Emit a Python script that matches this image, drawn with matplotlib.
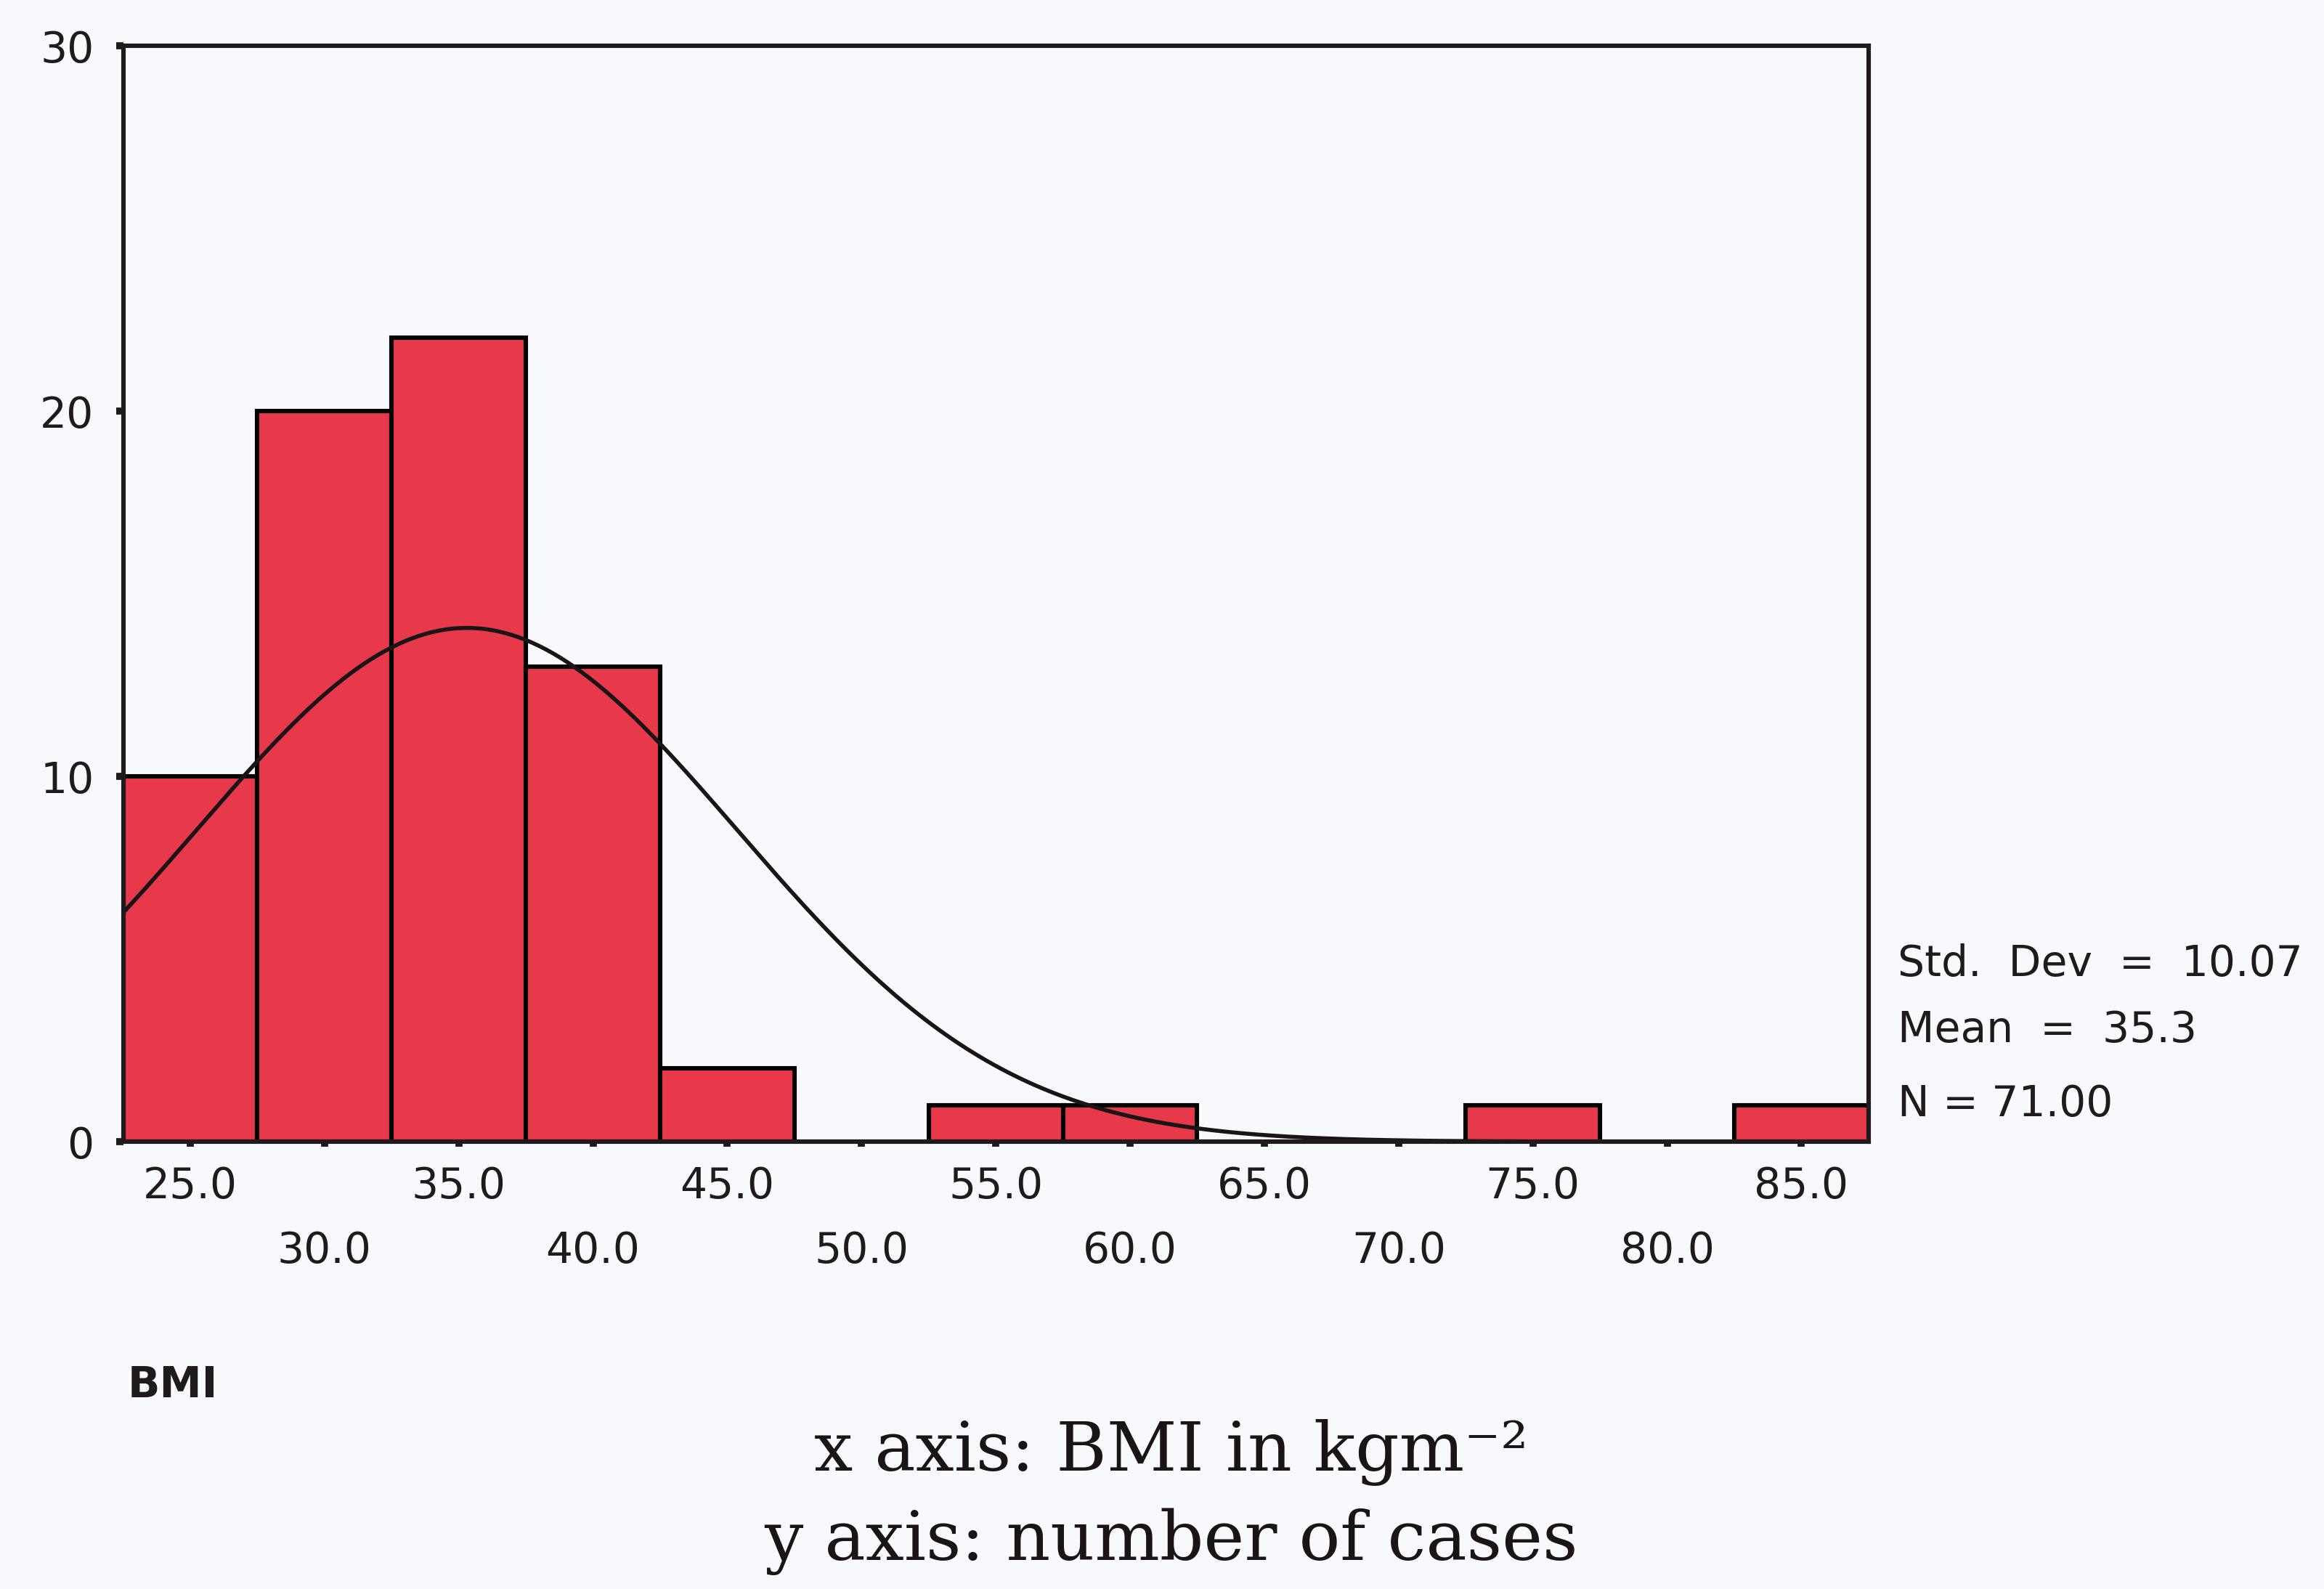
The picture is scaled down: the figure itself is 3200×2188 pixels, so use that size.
import numpy as np
import matplotlib.pyplot as plt

# BMI histogram (bin centres, counts)
bin_centers = [25, 30, 35, 40, 45, 50, 55, 60, 65, 70, 75, 80, 85]
counts = [10, 20, 22, 13, 2, 0, 1, 1, 0, 0, 1, 0, 1]
bin_width = 5
mean_bmi = 35.3
sd_bmi = 10.07
n_cases = 71
stats_lines = ["Std.  Dev  =  10.07", "Mean  =  35.3", "N = 71.00"]

bg = "#f7f9fc"
bar_color = "#e8394b"
ink = "#1f1a1e"
sans = "DejaVu Sans"

fig = plt.figure(figsize=(16, 10.94), dpi=200, facecolor=bg)
ax = fig.add_axes([0.053, 0.2815, 0.751, 0.6897])
ax.set_facecolor(bg)

ax.bar(bin_centers, counts, width=bin_width, color=bar_color,
       edgecolor="black", linewidth=2.2, zorder=2)

xs = np.linspace(22.5, 87.5, 500)
pdf = np.exp(-0.5 * ((xs - mean_bmi) / sd_bmi) ** 2) / (sd_bmi * np.sqrt(2 * np.pi))
ax.plot(xs, n_cases * bin_width * pdf, color="#1a1418", lw=2, zorder=3)

ax.set_xlim(22.5, 87.5)
ax.set_ylim(0, 30)
ax.set_yticks([0, 10, 20, 30])
ax.set_xticks(bin_centers)
ax.set_xticklabels([])
for s in ax.spines.values():
    s.set_linewidth(2.2)
    s.set_color(ink)
    s.set_zorder(4)
ax.tick_params(axis="y", length=3.5, width=3.5, labelsize=21, pad=11, colors=ink)
ax.tick_params(axis="x", length=2.5, width=3.5, colors=ink)
for lab in ax.get_yticklabels():
    lab.set_family(sans)

# alternating two-row x labels
tr = ax.get_xaxis_transform()
for i, c in enumerate(bin_centers):
    y_off = -0.041 if i % 2 == 0 else -0.1
    ax.text(c, y_off, "%.1f" % c, transform=tr, ha="center", va="center",
            fontsize=21, family=sans, color=ink)

fig.text(0.055, 0.128, "BMI", fontsize=21, family=sans, weight="bold",
         color=ink, va="center", ha="left")

for line, yy in zip(stats_lines, [0.3935, 0.3515, 0.305]):
    fig.text(0.8165, yy, line, fontsize=21, family=sans,
             color=ink, va="center", ha="left")

serif = ["DejaVu Serif", "Liberation Serif"]
fig.text(0.504, 0.086, "x axis: BMI in kgm⁻²", fontsize=34,
         family=serif, ha="center", va="center", color="#1a1418")
fig.text(0.504, 0.03, "y axis: number of cases", fontsize=34,
         family=serif, ha="center", va="center", color="#1a1418")

fig.savefig("out.png", dpi=200, facecolor=bg)
